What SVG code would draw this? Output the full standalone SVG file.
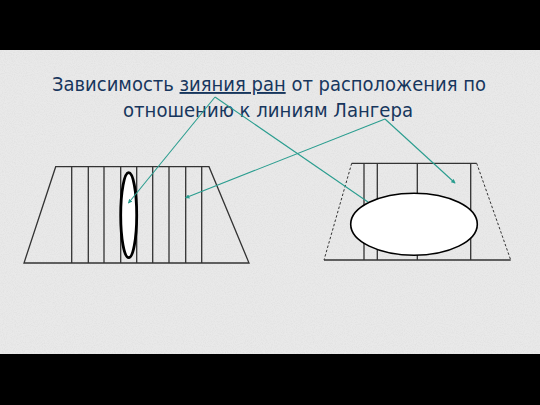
<svg xmlns="http://www.w3.org/2000/svg" width="540" height="405" viewBox="0 0 540 405">
<defs>
<filter id="grain" x="0" y="0" width="100%" height="100%">
<feTurbulence type="fractalNoise" baseFrequency="0.9" numOctaves="2" seed="3" result="n"/>
<feColorMatrix type="matrix" values="0 0 0 0 0.6  0 0 0 0 0.6  0 0 0 0 0.6  0 0 0 -1.8 1.1"/>
</filter>
<marker id="tip" viewBox="0 0 6 6" refX="5" refY="3" markerWidth="4" markerHeight="4" orient="auto">
<path d="M0,0 L6,3 L0,6 Z" fill="#2a9d8f"/>
</marker>
<style>
.title{font-family:"DejaVu Sans","Liberation Sans",sans-serif;font-size:19px;fill:#17365d;text-anchor:middle}
.edge{stroke:#333;stroke-width:1.3;fill:none}
.dash{stroke:#333;stroke-width:1;stroke-dasharray:2.5,2;fill:none}
.conn{stroke:#2a9d8f;stroke-width:1.1;fill:none}
</style>
</defs>
<rect x="0" y="0" width="540" height="405" fill="#e9e9e9"/>
<rect x="0" y="0" width="540" height="405" filter="url(#grain)" opacity="0.3"/>
<rect x="0" y="0" width="540" height="50" fill="#000"/>
<rect x="0" y="354" width="540" height="51" fill="#000"/>

<g id="title">
<text class="title" x="269" y="91" textLength="434" lengthAdjust="spacingAndGlyphs">Зависимость <tspan text-decoration="underline">зияния ран</tspan> от расположения по</text>
<text class="title" x="268" y="117" textLength="290" lengthAdjust="spacingAndGlyphs">отношению к линиям Лангера</text>
</g>

<g id="left-skin">
<path class="edge" d="M55.7,166.7 L209,166.7 L249,263 L24,263 Z"/>
<path class="edge" d="M71.7,166.7V263 M88.3,166.7V263 M104,166.7V263 M120.7,166.7V263 M136.7,166.7V263 M152.7,166.7V263 M169,166.7V263 M185.7,166.7V263 M201.7,166.7V263"/>
<ellipse cx="128.7" cy="215.2" rx="8" ry="42.5" fill="#fff" stroke="#000" stroke-width="2.8"/>
</g>

<g id="right-skin">
<path class="edge" d="M351.7,163.3 L476.7,163.3 M324,260 L510.7,260"/>
<path class="dash" d="M351.7,163.3 L324,260 M476.7,163.3 L510.7,260"/>
<path class="edge" d="M364,163.3V260 M377.3,163.3V260 M417.3,163.3V260 M470.7,163.3V260"/>
<ellipse cx="414" cy="224.2" rx="63.3" ry="31" fill="#fff" stroke="#000" stroke-width="1.6"/>
</g>

<g id="connectors">
<path class="conn" d="M215,97 L128.5,203" marker-end="url(#tip)"/>
<path class="conn" d="M215,97 L368,202"/>
<path class="conn" d="M385,119 L185.7,197.7" marker-end="url(#tip)"/>
<path class="conn" d="M385,119 L455,183" marker-end="url(#tip)"/>
</g>
</svg>
